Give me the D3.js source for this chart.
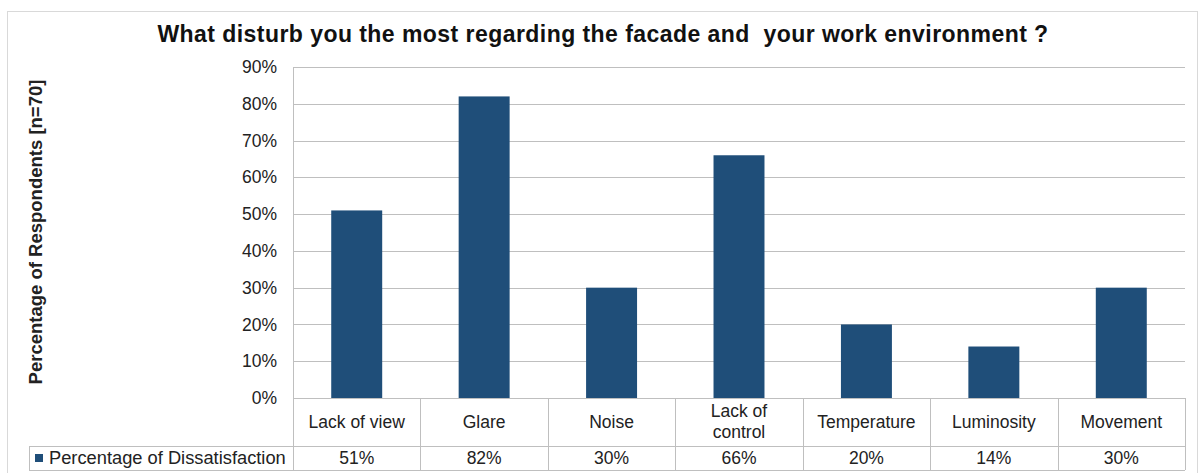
<!DOCTYPE html>
<html>
<head>
<meta charset="utf-8">
<script src="https://cdn.jsdelivr.net/npm/d3@7"></script>
<style>
  body { margin: 0; background: #fff; }
  svg text { font-family: "Liberation Sans", Arial, sans-serif; }
</style>
</head>
<body>
<div id="chart"></div>
<script>
// chart data
const categories = ["Lack of view", "Glare", "Noise", "Lack of control", "Temperature", "Luminosity", "Movement"];
const dissatisfaction = [51, 82, 30, 66, 20, 14, 30];
const yTicks = [0, 10, 20, 30, 40, 50, 60, 70, 80, 90];
const seriesName = "Percentage of Dissatisfaction";

const W = 1199, H = 473;
const plot = { left: 293, right: 1185, top: 67, bottom: 398 };
const rowCat = { top: 398, bottom: 446 };
const rowVal = { top: 446, bottom: 470 };
const legendLeft = 29;
const lineColor = "#bfbfbf";
const barColor = "#1f4e79";
const fs = "17.5px";

const svg = d3.select("#chart")
    .append("svg")
    .attr("width", W)
    .attr("height", H);

// outer frame
svg.append("rect")
    .attr("x", 7.5).attr("y", 11.5)
    .attr("width", W - 9).attr("height", H)
    .attr("fill", "none")
    .attr("stroke", "#d9d9d9");

// title
svg.append("text")
    .attr("x", 603)
    .attr("y", 42)
    .attr("text-anchor", "middle")
    .attr("font-size", "23px")
    .attr("font-weight", "bold")
    .attr("letter-spacing", "0.45px")
    .attr("fill", "#111")
    .style("white-space", "pre")
    .text("What disturb you the most regarding the facade and  your work environment ?");

// scales
const x = d3.scaleBand()
    .domain(categories)
    .range([plot.left, plot.right])
    .paddingInner(0.6)
    .paddingOuter(0.3);

const col = d3.scaleBand()
    .domain(categories)
    .range([plot.left, plot.right]);

const y = d3.scaleLinear()
    .domain([0, 90])
    .range([plot.bottom, plot.top]);

// gridlines
svg.append("g")
    .selectAll("line")
    .data(yTicks.filter(d => d > 0))
    .join("line")
        .attr("x1", plot.left)
        .attr("x2", plot.right)
        .attr("y1", d => Math.round(y(d)) + 0.5)
        .attr("y2", d => Math.round(y(d)) + 0.5)
        .attr("stroke", lineColor);

// y axis
const yAxis = svg.append("g")
    .attr("transform", `translate(${plot.left},0)`)
    .call(d3.axisLeft(y).tickValues(yTicks).tickFormat(d => d + "%").tickSize(0).tickPadding(16));
yAxis.select(".domain").remove();
yAxis.selectAll("text")
    .attr("font-size", fs)
    .attr("fill", "#222");

// bars
svg.append("g")
    .selectAll("rect")
    .data(dissatisfaction)
    .join("rect")
        .attr("x", (d, i) => x(categories[i]))
        .attr("y", d => y(d))
        .attr("width", x.bandwidth())
        .attr("height", d => plot.bottom - y(d))
        .attr("fill", barColor);

// data table lines
const table = svg.append("g").attr("stroke", lineColor).attr("fill", "none");
table.append("line")
    .attr("x1", plot.left).attr("x2", plot.right)
    .attr("y1", rowCat.top + 0.5).attr("y2", rowCat.top + 0.5);
table.append("line")
    .attr("x1", legendLeft).attr("x2", plot.right)
    .attr("y1", rowVal.top + 0.5).attr("y2", rowVal.top + 0.5);
table.append("line")
    .attr("x1", legendLeft).attr("x2", plot.right)
    .attr("y1", rowVal.bottom + 0.5).attr("y2", rowVal.bottom + 0.5);
table.append("line")
    .attr("x1", legendLeft + 0.5).attr("x2", legendLeft + 0.5)
    .attr("y1", rowVal.top).attr("y2", rowVal.bottom);
table.append("line")
    .attr("x1", plot.left + 0.5).attr("x2", plot.left + 0.5)
    .attr("y1", plot.top).attr("y2", rowVal.bottom);
table.selectAll("line.col")
    .data(categories)
    .join("line")
        .attr("class", "col")
        .attr("x1", d => Math.round(col(d) + col.bandwidth()) + 0.5)
        .attr("x2", d => Math.round(col(d) + col.bandwidth()) + 0.5)
        .attr("y1", rowCat.top)
        .attr("y2", rowVal.bottom);

// category labels (wrap long ones)
const catText = svg.append("g")
    .selectAll("text")
    .data(categories)
    .join("text")
        .attr("x", d => col(d) + col.bandwidth() / 2)
        .attr("text-anchor", "middle")
        .attr("font-size", fs)
        .attr("fill", "#222");
catText.each(function (d) {
    const t = d3.select(this);
    if (d === "Lack of control") {
        t.append("tspan").attr("x", col(d) + col.bandwidth() / 2).attr("y", 417).text("Lack of");
        t.append("tspan").attr("x", col(d) + col.bandwidth() / 2).attr("y", 438).text("control");
    } else {
        t.attr("y", 428).text(d);
    }
});

// value labels
svg.append("g")
    .selectAll("text")
    .data(dissatisfaction)
    .join("text")
        .attr("x", (d, i) => col(categories[i]) + col.bandwidth() / 2)
        .attr("y", 464)
        .attr("text-anchor", "middle")
        .attr("font-size", fs)
        .attr("fill", "#222")
        .text(d => d + "%");

// legend key in table
svg.append("rect")
    .attr("x", 35).attr("y", 454)
    .attr("width", 8).attr("height", 8)
    .attr("fill", barColor);
svg.append("text")
    .attr("x", 49)
    .attr("y", 464)
    .attr("font-size", "18.3px")
    .attr("fill", "#222")
    .text(seriesName);

// y axis title
svg.append("text")
    .attr("transform", "translate(42,232) rotate(-90)")
    .attr("text-anchor", "middle")
    .attr("font-size", "18.5px")
    .attr("font-weight", "bold")
    .attr("fill", "#222")
    .text("Percentage of Respondents [n=70]");
</script>
</body>
</html>
